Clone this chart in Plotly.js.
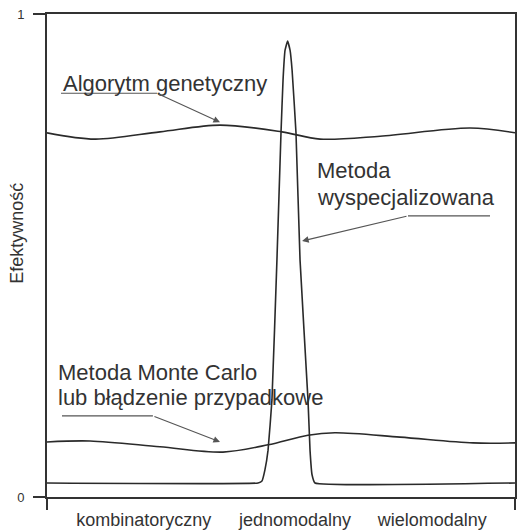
<!DOCTYPE html>
<html>
<head>
<meta charset="utf-8">
<script src="https://cdn.plot.ly/plotly-3.0.1.min.js"></script>
<style>html,body{margin:0;padding:0;background:#fff;}#chart{width:518px;height:532px;}</style>
</head>
<body>
<div id="chart"></div>
<script>
// Problem types (x-axis categories)
var categories = ['kombinatoryczny', 'jednomodalny', 'wielomodalny'];
var categoryPos = [0.62, 1.59, 2.47];

// Genetic algorithm efficiency
var gaX = [0, 0.308, 0.724, 1.109, 1.506, 1.75, 2.135, 2.712, 3];
var gaY = [0.754, 0.741, 0.756, 0.770, 0.756, 0.741, 0.747, 0.764, 0.754];

// Monte Carlo / random walk efficiency
var mcX = [0, 0.276, 0.724, 1.128, 1.417, 1.673, 1.846, 2.263, 2.731, 3];
var mcY = [0.114, 0.116, 0.104, 0.093, 0.108, 0.128, 0.133, 0.124, 0.112, 0.112];

// Specialized method efficiency
var smX = [0, 1.353, 1.378, 1.397, 1.417, 1.442, 1.474, 1.500, 1.513, 1.526, 1.542, 1.558, 1.571, 1.596, 1.622, 1.673, 1.686, 1.699, 1.718, 3];
var smY = [0.029, 0.029, 0.033, 0.056, 0.097, 0.201, 0.491, 0.754, 0.863, 0.925, 0.944, 0.925, 0.884, 0.754, 0.491, 0.201, 0.097, 0.046, 0.029, 0.029];

var yTicks = [0, 1];
var yTickText = ['0', '1'];

var lineCol = '#2a2a2a';
var textCol = '#333333';
var fontFam = 'Liberation Sans, Arial, sans-serif';

var traces = [
  {x: gaX, y: gaY, mode: 'lines', line: {color: lineCol, width: 1.6, shape: 'spline', smoothing: 0.9}, hoverinfo: 'skip'},
  {x: mcX, y: mcY, mode: 'lines', line: {color: lineCol, width: 1.6, shape: 'spline', smoothing: 0.9}, hoverinfo: 'skip'},
  {x: smX, y: smY, mode: 'lines', line: {color: lineCol, width: 1.6, shape: 'spline', smoothing: 0.3}, hoverinfo: 'skip'}
];

function label(txt, x, y) {
  return {text: txt, x: x, y: y, xref: 'x', yref: 'y', xanchor: 'left', yanchor: 'middle',
          showarrow: false, font: {family: fontFam, size: 22, color: textCol}};
}
function arrow(x0, y0, x1, y1) {
  return {text: '', x: x1, y: y1, ax: x0, ay: y0, xref: 'x', yref: 'y', axref: 'x', ayref: 'y',
          showarrow: true, arrowhead: 2, arrowsize: 1.2, arrowwidth: 1.1, arrowcolor: '#555', standoff: 0, startstandoff: 0};
}
function uline(x0, x1, y) {
  return {type: 'line', xref: 'x', yref: 'y', x0: x0, x1: x1, y0: y, y1: y, line: {color: '#555', width: 1.1}};
}

var layout = {
  width: 518, height: 532,
  margin: {l: 47, r: 3, t: 14, b: 35},
  paper_bgcolor: '#fff', plot_bgcolor: '#fff',
  showlegend: false,
  font: {family: fontFam, color: textCol},
  xaxis: {
    range: [0, 3], showgrid: false, zeroline: false,
    showline: true, mirror: true, linecolor: '#333', linewidth: 2,
    tickvals: categoryPos, ticktext: categories, ticks: '',
    ticklabelstandoff: 5,
    tickfont: {family: fontFam, size: 18, color: textCol}
  },
  yaxis: {
    range: [0, 1], showgrid: false, zeroline: false,
    showline: true, mirror: true, linecolor: '#333', linewidth: 2,
    tickvals: yTicks, ticktext: yTickText, ticks: 'outside', ticklen: 12, tickwidth: 2, tickcolor: '#333',
    ticklabelstandoff: 6,
    tickfont: {family: fontFam, size: 13, color: textCol}
  },
  shapes: [
    {type: 'line', xref: 'paper', yref: 'paper', x0: 0, x1: 0, y0: 0, y1: -0.027, line: {color: '#333', width: 2}},
    {type: 'line', xref: 'paper', yref: 'paper', x0: 1, x1: 1, y0: 0, y1: -0.027, line: {color: '#333', width: 2}},
    uline(0.0897, 0.705, 0.836),
    uline(2.314, 2.840, 0.582),
    uline(0.096, 0.679, 0.168)
  ],
  annotations: [
    {text: 'Efektywność', textangle: -90, xref: 'paper', yref: 'paper', x: -0.064, y: 0.545,
     xanchor: 'center', yanchor: 'middle', showarrow: false, font: {family: fontFam, size: 18, color: textCol}},
    label('Algorytm genetyczny', 0.0897, 0.857),
    label('Metoda', 1.718, 0.675),
    label('wyspecjalizowana', 1.718, 0.621),
    label('Metoda Monte Carlo', 0.0577, 0.257),
    label('lub błądzenie przypadkowe', 0.0577, 0.205),
    arrow(0.705, 0.836, 1.109, 0.776),
    arrow(2.314, 0.582, 1.635, 0.530),
    arrow(0.679, 0.168, 1.109, 0.114)
  ]
};

Plotly.newPlot('chart', traces, layout, {staticPlot: true, displayModeBar: false});
</script>
</body>
</html>
